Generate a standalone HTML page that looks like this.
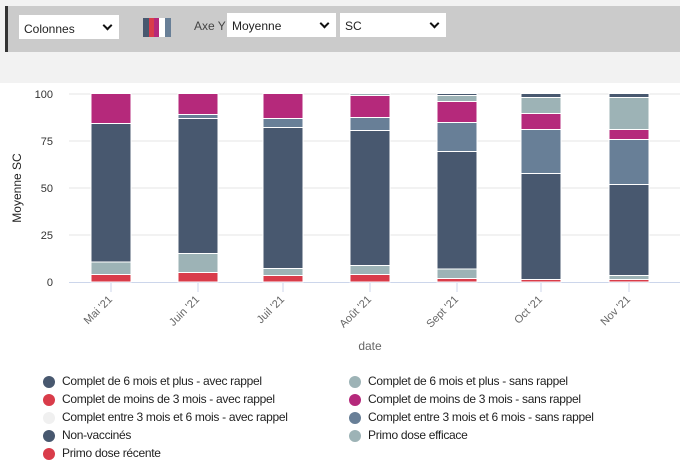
<!DOCTYPE html>
<html><head><meta charset="utf-8"><style>
body{margin:0;width:680px;height:473px;background:#fff;font-family:"Liberation Sans","DejaVu Sans",sans-serif;position:relative;overflow:hidden}
.top{position:absolute;left:0;top:0;width:680px;height:83px;background:#f2f2f2}
.bar{position:absolute;left:5px;top:6px;width:675px;height:46px;background:#cbcbcb;border-left:3px solid #333;box-sizing:border-box}
.sel{position:absolute;background:#fff;font-size:12px;color:#222;box-sizing:border-box;padding:6px 5px}
.sel:after{content:"";position:absolute;right:8px;top:7px;width:5px;height:5px;border-right:2px solid #111;border-bottom:2px solid #111;transform:rotate(45deg)}
.lg{position:absolute;font-size:12px;letter-spacing:-0.3px;color:#222;white-space:nowrap}
.lg i{position:absolute;left:-19px;top:2px;width:12px;height:12px;border-radius:50%}
</style></head><body>
<div class="top"></div>
<div class="bar"></div>
<div class="sel" style="left:19px;top:15px;width:100px;height:24px;padding-top:7px">Colonnes</div>
<div style="position:absolute;left:143px;top:18px;width:28px;height:19px;background:linear-gradient(90deg,#48586f 0 6px,#d93c4a 6px 11px,#b5297b 11px 16px,#fff 16px 22px,#687f97 22px)"></div>
<div style="position:absolute;left:194px;top:19px;font-size:12px;color:#444">Axe Y</div>
<div class="sel" style="left:227px;top:13px;width:109px;height:24px">Moyenne</div>
<div class="sel" style="left:340px;top:13px;width:106px;height:24px">SC</div>
<svg style="position:absolute;left:0;top:0" width="680" height="473">
<g stroke="#e6e6e6" stroke-width="1">
<line x1="69" x2="680" y1="94" y2="94"/><line x1="69" x2="680" y1="141" y2="141"/><line x1="69" x2="680" y1="188" y2="188"/><line x1="69" x2="680" y1="235" y2="235"/></g>
<line x1="69" x2="680" y1="282.5" y2="282.5" stroke="#ccd6eb"/>
<g stroke="#ccd6eb"><line x1="111" x2="111" y1="282" y2="292"/><line x1="198" x2="198" y1="282" y2="292"/><line x1="283" x2="283" y1="282" y2="292"/><line x1="370" x2="370" y1="282" y2="292"/><line x1="457" x2="457" y1="282" y2="292"/><line x1="541" x2="541" y1="282" y2="292"/><line x1="629" x2="629" y1="282" y2="292"/></g>
<g font-size="11" fill="#333" text-anchor="end"><text x="53" y="98">100</text><text x="53" y="145">75</text><text x="53" y="192">50</text><text x="53" y="239">25</text><text x="53" y="286">0</text></g>
<text transform="translate(21,188) rotate(-90)" text-anchor="middle" font-size="12" fill="#222">Moyenne SC</text>
<g font-size="11" fill="#666" text-anchor="end">
<text transform="translate(113,300) rotate(-45)">Mai '21</text>
<text transform="translate(200,300) rotate(-45)">Juin '21</text>
<text transform="translate(285,300) rotate(-45)">Juil '21</text>
<text transform="translate(372,300) rotate(-45)">Août '21</text>
<text transform="translate(459,300) rotate(-45)">Sept '21</text>
<text transform="translate(543,300) rotate(-45)">Oct '21</text>
<text transform="translate(631,300) rotate(-45)">Nov '21</text></g>
<text x="370" y="350" text-anchor="middle" font-size="12" fill="#666">date</text>
<g stroke="#fff" stroke-width="1">
<rect x="91" y="274.5" width="40" height="7.5" fill="#d93c4a"/><rect x="91" y="262" width="40" height="12.5" fill="#9db3b6"/><rect x="91" y="123.5" width="40" height="138.5" fill="#48586f"/><rect x="91" y="93.5" width="40" height="30" fill="#b5297b"/>
<rect x="178" y="272.5" width="40" height="9.5" fill="#d93c4a"/><rect x="178" y="253.5" width="40" height="19" fill="#9db3b6"/><rect x="178" y="118.5" width="40" height="135" fill="#48586f"/><rect x="178" y="114.5" width="40" height="4" fill="#687f97"/><rect x="178" y="93.5" width="40" height="21" fill="#b5297b"/>
<rect x="263" y="275.5" width="40" height="6.5" fill="#d93c4a"/><rect x="263" y="268.5" width="40" height="7" fill="#9db3b6"/><rect x="263" y="127.5" width="40" height="141" fill="#48586f"/><rect x="263" y="118.5" width="40" height="9" fill="#687f97"/><rect x="263" y="93.5" width="40" height="25" fill="#b5297b"/>
<rect x="350" y="274.5" width="40" height="7.5" fill="#d93c4a"/><rect x="350" y="265.5" width="40" height="9" fill="#9db3b6"/><rect x="350" y="130.5" width="40" height="135" fill="#48586f"/><rect x="350" y="117.5" width="40" height="13" fill="#687f97"/><rect x="350" y="95.5" width="40" height="22" fill="#b5297b"/><rect x="350" y="93.5" width="40" height="2" fill="#9db3b6"/>
<rect x="437" y="278.5" width="40" height="3.5" fill="#d93c4a"/><rect x="437" y="269" width="40" height="9.5" fill="#9db3b6"/><rect x="437" y="151.5" width="40" height="117.5" fill="#48586f"/><rect x="437" y="122.5" width="40" height="29" fill="#687f97"/><rect x="437" y="101.5" width="40" height="21" fill="#b5297b"/><rect x="437" y="95.5" width="40" height="6" fill="#9db3b6"/><rect x="437" y="93.5" width="40" height="2" fill="#48586f"/>
<rect x="521" y="279.5" width="40" height="2.5" fill="#d93c4a"/><rect x="521" y="173.5" width="40" height="106" fill="#48586f"/><rect x="521" y="129.5" width="40" height="44" fill="#687f97"/><rect x="521" y="113.5" width="40" height="16" fill="#b5297b"/><rect x="521" y="97.5" width="40" height="16" fill="#9db3b6"/><rect x="521" y="93.5" width="40" height="4" fill="#48586f"/>
<rect x="609" y="279.5" width="40" height="2.5" fill="#d93c4a"/><rect x="609" y="275.5" width="40" height="4" fill="#9db3b6"/><rect x="609" y="184.5" width="40" height="91" fill="#48586f"/><rect x="609" y="139.5" width="40" height="45" fill="#687f97"/><rect x="609" y="129.5" width="40" height="10" fill="#b5297b"/><rect x="609" y="97.5" width="40" height="32" fill="#9db3b6"/><rect x="609" y="93.5" width="40" height="4" fill="#48586f"/>
</g>
</svg>
<div class="lg" style="left:62px;top:374px"><i style="background:#48586f"></i>Complet de 6 mois et plus - avec rappel</div>
<div class="lg" style="left:62px;top:392px"><i style="background:#d93c4a"></i>Complet de moins de 3 mois - avec rappel</div>
<div class="lg" style="left:62px;top:410px"><i style="background:#f0f0f0"></i>Complet entre 3 mois et 6 mois - avec rappel</div>
<div class="lg" style="left:62px;top:428px"><i style="background:#48586f"></i>Non-vaccinés</div>
<div class="lg" style="left:62px;top:446px"><i style="background:#d93c4a"></i>Primo dose récente</div>
<div class="lg" style="left:368px;top:374px"><i style="background:#9db3b6"></i>Complet de 6 mois et plus - sans rappel</div>
<div class="lg" style="left:368px;top:392px"><i style="background:#b5297b"></i>Complet de moins de 3 mois - sans rappel</div>
<div class="lg" style="left:368px;top:410px"><i style="background:#687f97"></i>Complet entre 3 mois et 6 mois - sans rappel</div>
<div class="lg" style="left:368px;top:428px"><i style="background:#9db3b6"></i>Primo dose efficace</div>
</body></html>
